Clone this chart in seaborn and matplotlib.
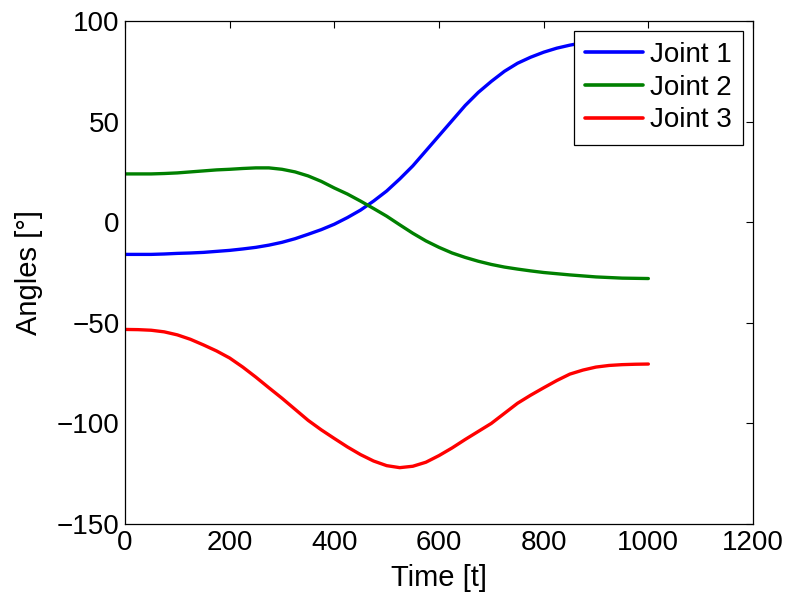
import numpy as np
import pandas as pd
import matplotlib
matplotlib.use("Agg")
import matplotlib.pyplot as plt
import seaborn as sns

# values, every 25 time steps
time = list(range(0, 1001, 25))
joint1 = [-16, -16, -16, -15.8, -15.5, -15.3, -15, -14.5, -14, -13.3,
          -12.5, -11.4, -10, -8.2, -6, -3.7, -1, 2.3, 6, 10.5,
          15.5, 21.5, 28, 35.5, 43, 50.5, 58, 64.5, 70, 75,
          79, 82, 84.5, 86.5, 88, 89.2, 90, 90.6, 91, 91.3, 91.5]
joint2 = [24, 24, 24, 24.2, 24.5, 25, 25.5, 26, 26.3, 26.7,
          27, 27, 26.3, 25, 23, 20.3, 17, 14, 10.5, 6.8,
          3, -1.3, -5.5, -9.3, -12.5, -15.3, -17.5, -19.4, -21, -22.3,
          -23.3, -24.2, -25, -25.6, -26.2, -26.7, -27.2, -27.5, -27.8, -27.9, -28]
joint3 = [-53.3, -53.4, -53.7, -54.5, -56, -58.2, -61, -64, -67.5, -72,
          -77, -82.3, -87.5, -93, -98.5, -103.2, -107.5, -111.7, -115.5, -118.7,
          -121, -122, -121.3, -119.3, -116, -112.2, -108, -104, -100, -95,
          -90, -86, -82.3, -78.7, -75.5, -73.5, -72, -71.2, -70.8, -70.6, -70.5]

names = ["Joint 1", "Joint 2", "Joint 3"]
colors = ["#0000ff", "#008000", "#ff0000"]

df = pd.DataFrame({
    "t": time * 3,
    "angle": joint1 + joint2 + joint3,
    "joint": [n for n in names for _ in time],
})

sns.set_style("white")
plt.rcParams["font.family"] = ["Liberation Sans", "DejaVu Sans"]
plt.rcParams["text.color"] = "black"
plt.rcParams["axes.labelcolor"] = "black"

fig = plt.figure(figsize=(7.9, 5.97), dpi=100)
ax = fig.add_axes([0.1582, 0.1223, 0.795, 0.8425])

sns.lineplot(data=df, x="t", y="angle", hue="joint", palette=colors,
             linewidth=2.4, ax=ax, sort=False)

ax.set_xlim(0, 1200)
ax.set_ylim(-150, 100)
ax.set_xticks(np.arange(0, 1201, 200))
ax.set_yticks(np.arange(-150, 101, 50))
ax.tick_params(direction="in", length=5, width=0.8, top=True, right=True,
               labelsize=20, colors="black")
ax.tick_params(axis="x", pad=4)
ax.tick_params(axis="y", pad=4)
for s in ax.spines.values():
    s.set_visible(True)
    s.set_color("black")
    s.set_linewidth(0.9)

ax.set_xlabel("Time [t]", fontsize=21, labelpad=6)
ax.set_ylabel("Angles [°]", fontsize=21, labelpad=10)

leg = ax.legend(loc="upper right", fontsize=20, frameon=True, fancybox=False,
                framealpha=1, edgecolor="black", handlelength=2.1,
                handletextpad=0.25, borderpad=0.4, labelspacing=0.24,
                borderaxespad=0.36)
leg.get_frame().set_linewidth(0.9)
for line in leg.get_lines():
    line.set_linewidth(2.6)

fig.savefig("out.png", dpi=100, facecolor="white")
